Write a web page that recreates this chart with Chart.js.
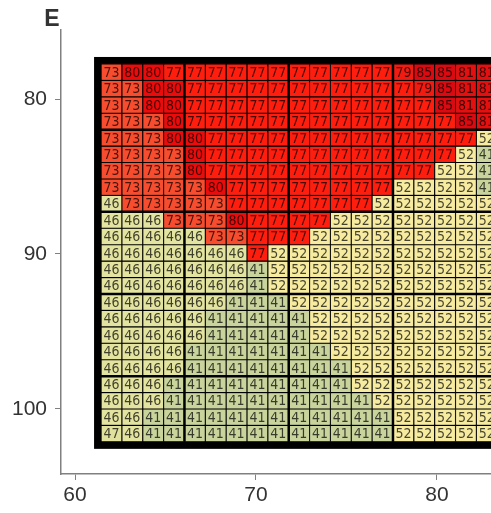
<!DOCTYPE html>
<html>
<head>
<meta charset="utf-8">
<script src="https://cdn.jsdelivr.net/npm/chart.js@4/dist/chart.umd.min.js"></script>
<style>
  html, body { margin: 0; padding: 0; overflow: hidden; background: #fff; }
  #wrap { position: absolute; left: 0; top: 0; width: 560px; height: 513px; }
</style>
</head>
<body>
<div id="wrap"><canvas id="chart" width="560" height="513"></canvas></div>
<script>
// --- Data ---
const xTicks = [60, 70, 80];
const yTicks = [80, 90, 100];

// one array per grid row, top to bottom, left to right
const cellValues = [
  [73, 80, 80, 77, 77, 77, 77, 77, 77, 77, 77, 77, 77, 77, 79, 85, 85, 81, 81],
  [73, 73, 80, 80, 77, 77, 77, 77, 77, 77, 77, 77, 77, 77, 77, 79, 85, 81, 81],
  [73, 73, 80, 80, 77, 77, 77, 77, 77, 77, 77, 77, 77, 77, 77, 77, 85, 81, 81],
  [73, 73, 73, 80, 77, 77, 77, 77, 77, 77, 77, 77, 77, 77, 77, 77, 77, 85, 81],
  [73, 73, 73, 80, 80, 77, 77, 77, 77, 77, 77, 77, 77, 77, 77, 77, 77, 77, 52],
  [73, 73, 73, 73, 80, 77, 77, 77, 77, 77, 77, 77, 77, 77, 77, 77, 77, 52, 41],
  [73, 73, 73, 73, 80, 77, 77, 77, 77, 77, 77, 77, 77, 77, 77, 77, 52, 52, 41],
  [73, 73, 73, 73, 73, 80, 77, 77, 77, 77, 77, 77, 77, 77, 52, 52, 52, 52, 41],
  [46, 73, 73, 73, 73, 73, 77, 77, 77, 77, 77, 77, 77, 52, 52, 52, 52, 52, 52],
  [46, 46, 46, 73, 73, 73, 80, 77, 77, 77, 77, 52, 52, 52, 52, 52, 52, 52, 52],
  [46, 46, 46, 46, 46, 73, 73, 77, 77, 77, 52, 52, 52, 52, 52, 52, 52, 52, 52],
  [46, 46, 46, 46, 46, 46, 46, 77, 52, 52, 52, 52, 52, 52, 52, 52, 52, 52, 52],
  [46, 46, 46, 46, 46, 46, 46, 41, 52, 52, 52, 52, 52, 52, 52, 52, 52, 52, 52],
  [46, 46, 46, 46, 46, 46, 46, 41, 52, 52, 52, 52, 52, 52, 52, 52, 52, 52, 52],
  [46, 46, 46, 46, 46, 46, 41, 41, 41, 52, 52, 52, 52, 52, 52, 52, 52, 52, 52],
  [46, 46, 46, 46, 46, 41, 41, 41, 41, 41, 52, 52, 52, 52, 52, 52, 52, 52, 52],
  [46, 46, 46, 46, 46, 41, 41, 41, 41, 41, 52, 52, 52, 52, 52, 52, 52, 52, 52],
  [46, 46, 46, 46, 41, 41, 41, 41, 41, 41, 41, 52, 52, 52, 52, 52, 52, 52, 52],
  [46, 46, 46, 46, 41, 41, 41, 41, 41, 41, 41, 41, 52, 52, 52, 52, 52, 52, 52],
  [46, 46, 46, 41, 41, 41, 41, 41, 41, 41, 41, 41, 52, 52, 52, 52, 52, 52, 52],
  [46, 46, 46, 41, 41, 41, 41, 41, 41, 41, 41, 41, 41, 52, 52, 52, 52, 52, 52],
  [46, 46, 41, 41, 41, 41, 41, 41, 41, 41, 41, 41, 41, 41, 52, 52, 52, 52, 52],
  [47, 46, 41, 41, 41, 41, 41, 41, 41, 41, 41, 41, 41, 41, 52, 52, 52, 52, 52]
];

// --- Grid placement in axis units ---
const gridX0 = 61.44, cellW = 1.152;
const gridY0 = 77.74, cellH = 1.06;
const blockEvery = 5, blockStart = 4;   // heavier lines every 5 cells

const cellColors = {
  41: '#c9d49c', 46: '#e3e49f', 47: '#dfe19d', 52: '#f7eba0',
  73: '#f74c2d', 77: '#ff1d0e', 79: '#f21b12', 80: '#eb0b0a',
  81: '#e4100f', 85: '#dc0a10'
};

const nRows = cellValues.length;
const nCols = cellValues[0].length;

const datasets = cellValues.map((row, r) => ({
  data: row.map((v, c) => ({
    x: gridX0 + (c + 0.5) * cellW,
    y: [gridY0 + r * cellH, gridY0 + (r + 1) * cellH],
    v: v
  })),
  backgroundColor: ctx => (ctx.raw ? cellColors[ctx.raw.v] : '#ccc'),
  borderColor: '#000',
  borderWidth: 0.9,
  borderSkipped: false,
  barPercentage: 1,
  categoryPercentage: 1,
  grouped: false
}));

// --- Cell labels, block lines, frame and corner letter ---
const gridDecor = {
  id: 'gridDecor',
  afterDatasetsDraw(chart) {
    const ctx = chart.ctx;
    const xs = chart.scales.x, ys = chart.scales.y;
    ctx.save();
    ctx.font = '14px "Liberation Sans Narrow", "DejaVu Sans Condensed", sans-serif';
    ctx.textAlign = 'center';
    ctx.textBaseline = 'middle';
    ctx.fillStyle = 'rgba(0,0,0,0.72)';
    chart.data.datasets.forEach((ds, i) => {
      chart.getDatasetMeta(i).data.forEach((bar, j) => {
        ctx.fillText(String(ds.data[j].v), bar.x, (bar.y + bar.base) / 2 + 1);
      });
    });

    const left = xs.getPixelForValue(gridX0);
    const right = xs.getPixelForValue(gridX0 + nCols * cellW);
    const top = ys.getPixelForValue(gridY0);
    const bottom = ys.getPixelForValue(gridY0 + nRows * cellH);

    ctx.strokeStyle = '#000';
    ctx.lineWidth = 2.5;
    for (let c = blockStart; c < nCols; c += blockEvery) {
      const px = xs.getPixelForValue(gridX0 + c * cellW);
      ctx.beginPath(); ctx.moveTo(px, top); ctx.lineTo(px, bottom); ctx.stroke();
    }
    for (let r = blockStart; r < nRows; r += blockEvery) {
      const py = ys.getPixelForValue(gridY0 + r * cellH);
      ctx.beginPath(); ctx.moveTo(left, py); ctx.lineTo(right, py); ctx.stroke();
    }

    ctx.lineWidth = 7;
    ctx.strokeRect(left - 3.5, top - 3.5, right - left + 7, bottom - top + 7);
    ctx.restore();
  },
  afterDraw(chart) {
    const ctx = chart.ctx;
    ctx.save();
    ctx.font = 'bold 23px "Liberation Sans", Arial, sans-serif';
    ctx.fillStyle = '#333';
    ctx.textAlign = 'center';
    ctx.textBaseline = 'middle';
    ctx.fillText('E', 52, 20);
    ctx.restore();
  }
};

const axisFont = { family: '"Liberation Sans", Arial, sans-serif', size: 21 };

new Chart(document.getElementById('chart').getContext('2d'), {
  type: 'bar',
  data: { datasets: datasets },
  options: {
    responsive: false,
    animation: false,
    layout: { padding: { top: 30, left: 0, right: 0, bottom: 0 } },
    plugins: { legend: { display: false }, tooltip: { enabled: false } },
    scales: {
      x: {
        type: 'linear',
        offset: false,
        min: 59.2265,
        max: 86.796,
        afterBuildTicks: s => { s.ticks = xTicks.map(v => ({ value: v })); },
        afterFit: s => { s.height = 39; },
        grid: { offset: false, drawOnChartArea: false, drawTicks: true, tickLength: 6, color: '#808080' },
        border: { display: true, color: '#808080', width: 1.5 },
        ticks: { color: '#333', font: axisFont, padding: 3, maxRotation: 0 }
      },
      y: {
        type: 'linear',
        reverse: true,
        min: 75.548,
        max: 104.194,
        afterBuildTicks: s => { s.ticks = yTicks.map(v => ({ value: v })); },
        afterFit: s => { s.width = 61; },
        grid: { drawOnChartArea: false, drawTicks: true, tickLength: 6, color: '#808080' },
        border: { display: true, color: '#808080', width: 1.5 },
        ticks: { color: '#333', font: axisFont, padding: 8 }
      }
    }
  },
  plugins: [gridDecor]
});
</script>
</body>
</html>
